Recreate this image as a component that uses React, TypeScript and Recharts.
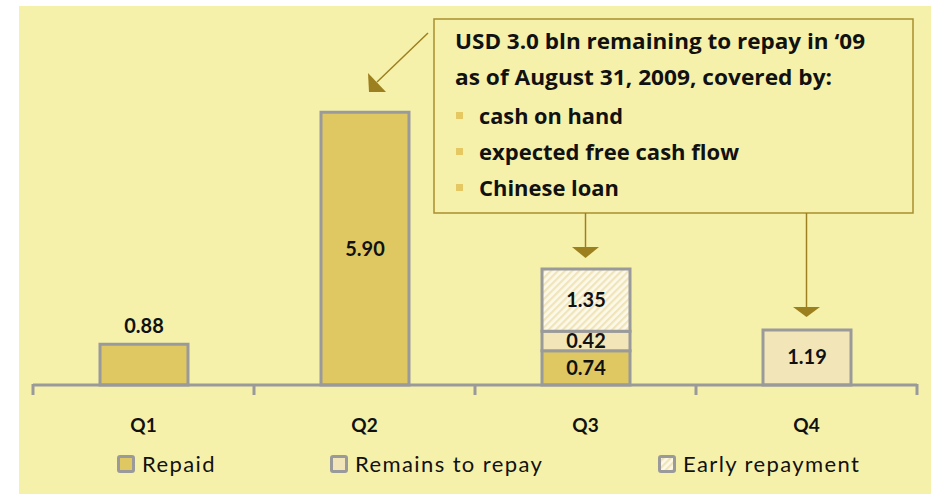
import React from 'react';
import { BarChart, Bar, XAxis, YAxis, Legend, LabelList } from 'recharts';

const categories = ['Q1', 'Q2', 'Q3', 'Q4'];
const repaid = [0.88, 5.9, 0.74, null];
const remains = [null, null, 0.42, 1.19];
const early = [null, null, 1.35, null];
const seriesNames = ['Repaid', 'Remains to repay', 'Early repayment'];
const calloutTitle = ['USD 3.0 bln remaining to repay in \u201809', 'as of August 31, 2009, covered by:'];
const calloutBullets = ['cash on hand', 'expected free cash flow', 'Chinese loan'];

const data = categories.map((q, i) => ({ q, repaid: repaid[i], remains: remains[i], early: early[i] }));

const FONT = 'Lato, "Open Sans", sans-serif';
const CALLOUT_FONT = '"Open Sans", Lato, sans-serif';
const BG = '#F6F1AA';
const REPAID = '#DFC862';
const REMAINS = '#F2E6B8';
const STROKE = '#9A9A9A';
const GOLD = '#9C8020';

const titleWidths = [410, 377];
const bulletWidths = [144, 260, 140];

const CatTick = (props: any) => {
  const { x, y, payload, index, visibleTicksCount } = props;
  const off = payload && payload.offset ? payload.offset : 0;
  const isLast = index === (visibleTicksCount ? visibleTicksCount - 1 : categories.length - 1);
  return (
    <g>
      <line x1={x - off} x2={x - off} y1={y - 1} y2={y + 10} stroke={STROKE} strokeWidth={3} />
      {isLast && <line x1={x + off} x2={x + off} y1={y - 1} y2={y + 10} stroke={STROKE} strokeWidth={3} />}
      <text x={x} y={y + 47} textAnchor="middle" fontFamily={FONT} fontWeight={700} fontSize={19} fill="#111">
        {payload.value}
      </text>
    </g>
  );
};

const makeLabel = (aboveIndex: number | null) => (props: any) => {
  const vb = props.viewBox || props;
  const x = props.x ?? vb.x;
  const y = props.y ?? vb.y;
  const width = props.width ?? vb.width;
  const height = props.height ?? vb.height;
  const { value, index } = props;
  if (value === null || value === undefined) return null;
  const cx = x + width / 2;
  const ty = index === aboveIndex ? y - 11 : y + height / 2 + 7;
  return (
    <text x={cx} y={ty} textAnchor="middle" fontFamily={FONT} fontWeight={700} fontSize={20} fill="#111">
      {Number(value).toFixed(2)}
    </text>
  );
};

const LegendIcon = ({ fill }: { fill: string }) => (
  <svg width={18} height={18} style={{ display: 'block' }}>
    <rect x={1.5} y={1.5} width={15} height={15} rx={1.5} fill={fill} stroke={STROKE} strokeWidth={3} />
  </svg>
);

const legendFills = [REPAID, REMAINS, 'url(#earlyStripes)'];
const legendLefts = [117, 330, 658];

const renderLegend = () => (
  <div style={{ position: 'relative', width: 931, height: 49 }}>
    {seriesNames.map((name, i) => (
      <div
        key={name}
        style={{
          position: 'absolute',
          left: legendLefts[i],
          top: 9,
          display: 'flex',
          alignItems: 'center',
          fontFamily: FONT,
          fontSize: 22,
          letterSpacing: '1.4px',
          color: '#111',
          lineHeight: '20px',
        }}
      >
        <LegendIcon fill={legendFills[i]} />
        <span style={{ marginLeft: 7 }}>{name}</span>
      </div>
    ))}
  </div>
);

export default function App() {
  return (
    <div style={{ position: 'absolute', left: 0, top: 0, width: 931, height: 494, background: '#fff', overflow: 'hidden' }}>
      <svg width={0} height={0} style={{ position: 'absolute' }}>
        <defs>
          <pattern id="earlyStripes" patternUnits="userSpaceOnUse" width={5} height={5} patternTransform="rotate(45)">
            <rect x={0} y={0} width={5} height={5} fill="#FCF9E8" />
            <rect x={0} y={0} width={2.2} height={5} fill="#F0E4BA" />
          </pattern>
        </defs>
      </svg>
      <div style={{ position: 'absolute', left: 19, top: 6, width: 912, height: 488, background: BG }} />
      <div style={{ position: 'absolute', left: 0, top: 0 }}>
        <BarChart width={931} height={494} data={data} margin={{ top: 15, right: 14, bottom: 0, left: 33 }}>
          <YAxis hide domain={[0, 8]} />
          <XAxis
            dataKey="q"
            height={60}
            interval={0}
            axisLine={{ stroke: STROKE, strokeWidth: 3 }}
            tickLine={false}
            tickSize={0}
            tickMargin={0}
            tick={<CatTick />}
          />
          <Legend verticalAlign="bottom" content={renderLegend} wrapperStyle={{ left: 0, width: 931, bottom: 0, height: 49 }} />
          <Bar dataKey="repaid" stackId="a" barSize={88} fill={REPAID} stroke={STROKE} strokeWidth={3} isAnimationActive={false}>
            <LabelList dataKey="repaid" content={makeLabel(0)} />
          </Bar>
          <Bar dataKey="remains" stackId="a" barSize={88} fill={REMAINS} stroke={STROKE} strokeWidth={3} isAnimationActive={false}>
            <LabelList dataKey="remains" content={makeLabel(null)} />
          </Bar>
          <Bar dataKey="early" stackId="a" barSize={88} fill="url(#earlyStripes)" stroke={STROKE} strokeWidth={3} isAnimationActive={false}>
            <LabelList dataKey="early" content={makeLabel(null)} />
          </Bar>
        </BarChart>
      </div>
      <svg width={931} height={494} style={{ position: 'absolute', left: 0, top: 0, pointerEvents: 'none' }}>
        <rect x={434} y={19} width={479} height={194} fill={BG} stroke="#A88E2E" strokeWidth={1.5} />
        {calloutTitle.map((t, i) => (
          <text
            key={t}
            x={455}
            y={49 + i * 36}
            fontFamily={CALLOUT_FONT}
            fontWeight={700}
            fontSize={21.5}
            fill="#111"
            textLength={titleWidths[i]}
            lengthAdjust="spacingAndGlyphs"
          >
            {t}
          </text>
        ))}
        {calloutBullets.map((t, i) => (
          <g key={t}>
            <rect x={456} y={112 + i * 36} width={7} height={7} fill="#E6C862" />
            <text
              x={479}
              y={124 + i * 36}
              fontFamily={CALLOUT_FONT}
              fontWeight={700}
              fontSize={21.5}
              fill="#111"
              textLength={bulletWidths[i]}
              lengthAdjust="spacingAndGlyphs"
            >
              {t}
            </text>
          </g>
        ))}
        <line x1={428} y1={33} x2={377} y2={82} stroke={GOLD} strokeWidth={1.5} />
        <polygon points="369,92 368,73 386,92" fill={GOLD} />
        <line x1={585.5} y1={213} x2={585.5} y2={248} stroke={GOLD} strokeWidth={1.5} />
        <polygon points="572,247 599,247 585.5,258" fill={GOLD} />
        <line x1={806.5} y1={213} x2={806.5} y2={308} stroke={GOLD} strokeWidth={1.5} />
        <polygon points="793,307 820,307 806.5,317" fill={GOLD} />
      </svg>
    </div>
  );
}
